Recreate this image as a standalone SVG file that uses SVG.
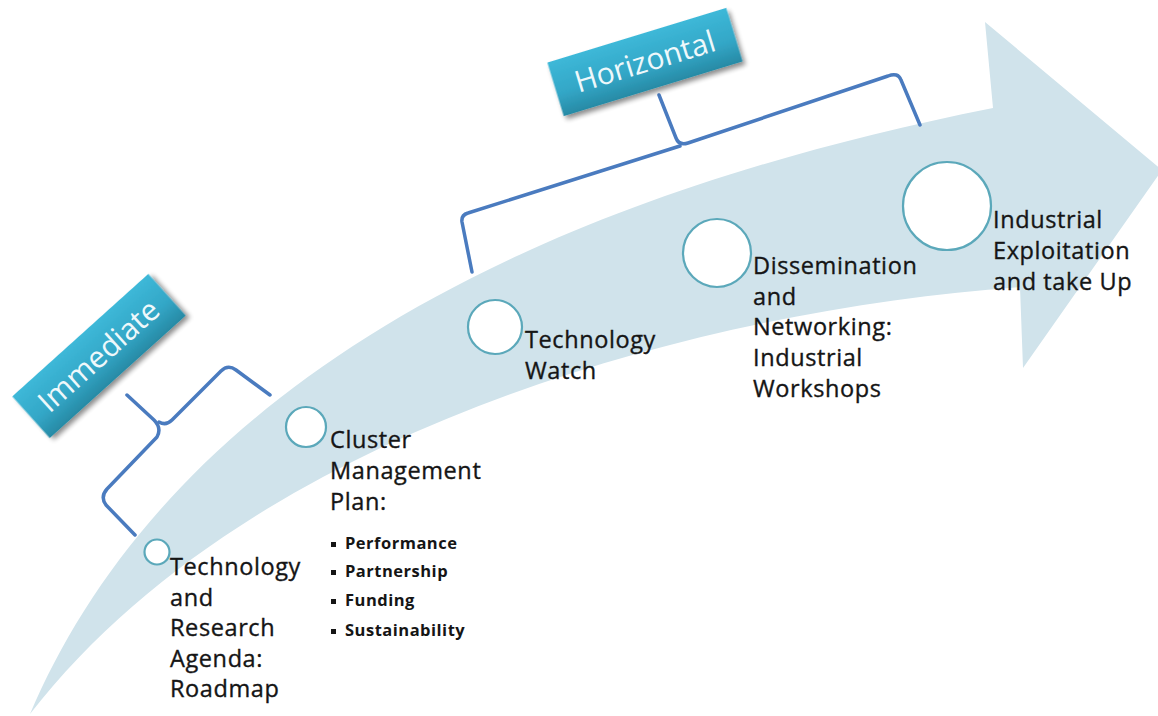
<svg xmlns="http://www.w3.org/2000/svg" width="1158" height="716" viewBox="0 0 1158 716">
<defs>
<linearGradient id="tag" x1="0" y1="0" x2="0" y2="1">
<stop offset="0" stop-color="#3db8d8"/>
<stop offset="0.6" stop-color="#33a6c6"/>
<stop offset="1" stop-color="#278aa5"/>
</linearGradient>
<filter id="sh" x="-20%" y="-40%" width="140%" height="180%">
<feGaussianBlur in="SourceAlpha" stdDeviation="2.5"/>
<feOffset dx="2" dy="4" result="b"/>
<feComponentTransfer><feFuncA type="linear" slope="0.45"/></feComponentTransfer>
<feMerge><feMergeNode/><feMergeNode in="SourceGraphic"/></feMerge>
</filter>
</defs>
<style>
.band{fill:#d0e3eb}
.node circle{fill:#ffffff;stroke:#5ba8ba;stroke-width:2.2}
.lbl{font-family:"Open Sans","Liberation Sans",sans-serif;font-size:23.5px;letter-spacing:0.6px;fill:#151515;stroke:#151515;stroke-width:0.35}
.sub{font-family:"Open Sans","Liberation Sans",sans-serif;font-size:16.5px;font-weight:bold;letter-spacing:0.5px;fill:#151515}
.tagtxt{font-family:"Open Sans","Liberation Sans",sans-serif;font-size:30px;fill:#eef8fb;text-anchor:middle}
.brace{fill:none;stroke:#4a7bbf;stroke-width:3.5;stroke-linecap:round;stroke-linejoin:round}
</style>
<rect width="1158" height="716" fill="#ffffff"/>
<path class="band" d="M30,714 C130,480 380,230 993,108 L985,22 L1162,170 L1023,368 L1020,287 C700,310 250,430 30,714 Z"/>
<g id="connectors">
<path class="brace" d="M270,395 L236,370 Q228,364 221,371 L172,420 Q166,426 159,422"/>
<path class="brace" d="M127,395 L154,420 Q162,428 157,437 L107,489 Q100,497 106,505 L135,535"/>
<path class="brace" d="M472,272 L462,222 Q461,215 468,213 L680,146"/>
<path class="brace" d="M659,95 L676,138 Q679,146 688,143 L888,76 Q898,72 901,80 L920,125"/>
</g>
<g id="tag-immediate" transform="translate(99,356) rotate(-42)">
<rect x="-91.5" y="-28" width="183" height="56" fill="url(#tag)" filter="url(#sh)"/>
<text class="tagtxt" x="0" y="10">Immediate</text>
</g>
<g id="tag-horizontal" transform="translate(645,62) rotate(-17)">
<rect x="-93.5" y="-28" width="187" height="56" fill="url(#tag)" filter="url(#sh)"/>
<text class="tagtxt" x="0" y="10">Horizontal</text>
</g>
<g id="node1" class="node">
<circle cx="157" cy="552" r="12.5"/>
<text class="lbl"><tspan x="170" y="575">Technology</tspan><tspan x="170" y="606">and</tspan><tspan x="170" y="636">Research</tspan><tspan x="170" y="667">Agenda:</tspan><tspan x="170" y="697">Roadmap</tspan></text>
</g>
<g id="node2" class="node">
<circle cx="306" cy="427" r="20"/>
<text class="lbl"><tspan x="330" y="448">Cluster</tspan><tspan x="330" y="479">Management</tspan><tspan x="330" y="510">Plan:</tspan></text>
<g fill="#151515">
<rect x="331" y="542" width="5" height="5"/>
<rect x="331" y="570" width="5" height="5"/>
<rect x="331" y="599" width="5" height="5"/>
<rect x="331" y="629" width="5" height="5"/>
</g>
<text class="sub"><tspan x="345" y="549">Performance</tspan><tspan x="345" y="577">Partnership</tspan><tspan x="345" y="606">Funding</tspan><tspan x="345" y="636">Sustainability</tspan></text>
</g>
<g id="node3" class="node">
<circle cx="495" cy="327" r="27"/>
<text class="lbl"><tspan x="525" y="348">Technology</tspan><tspan x="525" y="379">Watch</tspan></text>
</g>
<g id="node4" class="node">
<circle cx="717" cy="253" r="34"/>
<text class="lbl"><tspan x="753" y="274">Dissemination</tspan><tspan x="753" y="305">and</tspan><tspan x="753" y="335">Networking:</tspan><tspan x="753" y="366">Industrial</tspan><tspan x="753" y="397">Workshops</tspan></text>
</g>
<g id="node5" class="node">
<circle cx="947" cy="206" r="44"/>
<text class="lbl"><tspan x="993" y="228">Industrial</tspan><tspan x="993" y="259">Exploitation</tspan><tspan x="993" y="290">and take Up</tspan></text>
</g>
</svg>
